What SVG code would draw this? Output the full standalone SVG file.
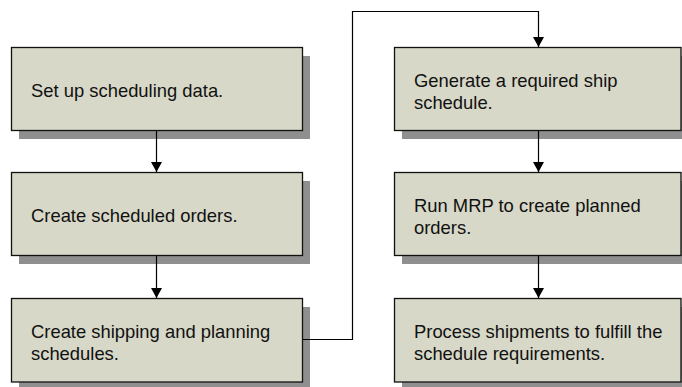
<svg xmlns="http://www.w3.org/2000/svg" width="682" height="387" viewBox="0 0 682 387">
<defs>
<style>
.shadow{fill:#8f8f8f;}
.box{fill:#d7d8c7;stroke:#111;stroke-width:1.3;}
.lbl{font-family:"Liberation Sans",Arial,sans-serif;font-size:18.4px;fill:#111;}
.conn{fill:none;stroke:#000;stroke-width:1.2;}
</style>
<marker id="arr" markerWidth="10" markerHeight="11" refX="10" refY="5.5" orient="auto" markerUnits="userSpaceOnUse">
<path d="M0,0 L10,5.5 L0,11 Z" fill="#000"/>
</marker>
</defs>
<rect width="682" height="387" fill="#fff"/>
<g id="n1">
<rect class="shadow" x="19" y="56" width="291" height="83"/>
<rect class="box" x="11.5" y="47.5" width="291" height="83"/>
<text class="lbl" x="31" y="97">Set up scheduling data.</text>
</g>
<g id="n2">
<rect class="shadow" x="19" y="181" width="291" height="83"/>
<rect class="box" x="11.5" y="172.5" width="291" height="83"/>
<text class="lbl" x="31" y="222">Create scheduled orders.</text>
</g>
<g id="n3">
<rect class="shadow" x="19" y="307" width="291" height="83"/>
<rect class="box" x="11.5" y="298.5" width="291" height="83.5"/>
<text class="lbl" x="31" y="338">Create shipping and planning</text>
<text class="lbl" x="31" y="359.5">schedules.</text>
</g>
<g id="n4">
<rect class="shadow" x="402" y="56" width="291" height="83"/>
<rect class="box" x="394.5" y="47.5" width="286.5" height="83"/>
<text class="lbl" x="414" y="87">Generate a required ship</text>
<text class="lbl" x="414" y="108.5">schedule.</text>
</g>
<g id="n5">
<rect class="shadow" x="402" y="181" width="291" height="83"/>
<rect class="box" x="394.5" y="172.5" width="286.5" height="83"/>
<text class="lbl" x="414" y="212">Run MRP to create planned</text>
<text class="lbl" x="414" y="233.5">orders.</text>
</g>
<g id="n6">
<rect class="shadow" x="402" y="307" width="291" height="83"/>
<rect class="box" x="394.5" y="298.5" width="286.5" height="83.5"/>
<text class="lbl" x="414" y="338">Process shipments to fulfill the</text>
<text class="lbl" x="414" y="359.5">schedule requirements.</text>
</g>
<g id="connectors">
<path class="conn" d="M156.5,131 L156.5,172" marker-end="url(#arr)"/>
<path class="conn" d="M156.5,256 L156.5,298" marker-end="url(#arr)"/>
<path class="conn" d="M303,339.5 L352.5,339.5 L352.5,11.5 L538.5,11.5 L538.5,47" marker-end="url(#arr)"/>
<path class="conn" d="M538.5,131 L538.5,172" marker-end="url(#arr)"/>
<path class="conn" d="M538.5,256 L538.5,298" marker-end="url(#arr)"/>
</g>
</svg>
